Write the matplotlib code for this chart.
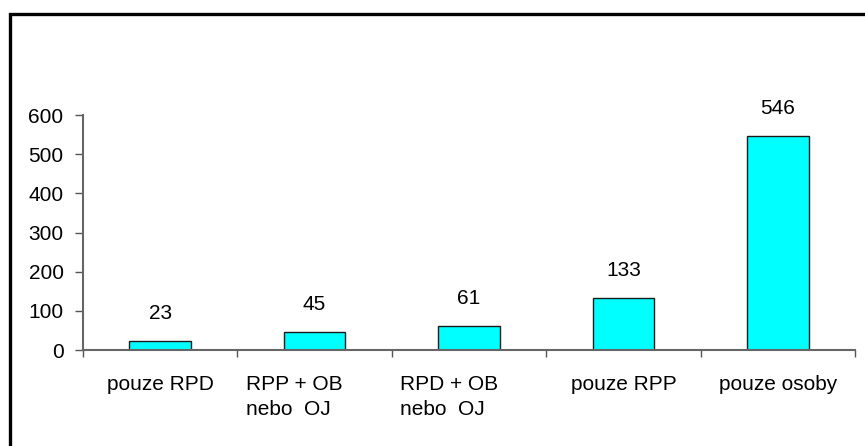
import matplotlib
matplotlib.use("Agg")
import matplotlib.pyplot as plt
import matplotlib.transforms as mtrans
import numpy as np

categories = ["pouze RPD", "RPP + OB\nnebo  OJ", "RPD + OB\nnebo  OJ", "pouze RPP", "pouze osoby"]
values = [23, 45, 61, 133, 546]
yticks = [0, 100, 200, 300, 400, 500, 600]

plt.rcParams["font.family"] = ["Liberation Sans", "DejaVu Sans"]
FS = 15

fig = plt.figure(figsize=(8.65, 4.46), dpi=100)
ax = fig.add_axes([83 / 865, 1 - 350 / 446, (855 - 83) / 865, (350 - 115) / 446])

# outer frame (only top and left edges fall inside the picture)
fig.patches.append(plt.Rectangle((9.5 / 865, -0.1), 1.2, 1 - 14 / 446 + 0.1,
                                 transform=fig.transFigure, fill=False,
                                 edgecolor="black", linewidth=2.4))

x = np.arange(len(categories))
ax.bar(x, values, width=0.4, color="#00FFFF", edgecolor="#1a1a1a", linewidth=1.0)

for xi, v in zip(x, values):
    ax.annotate(str(v), (xi, v), xytext=(0, 20), textcoords="offset points",
                ha="center", va="center", fontsize=FS)

ax.set_xlim(-0.5, len(categories) - 0.5)
ax.set_ylim(0, 600)
ax.set_yticks(yticks)
ax.set_yticklabels([str(t) for t in yticks], fontsize=FS)

# ticks between categories, labels in the middle
ax.set_xticks(np.arange(-0.5, len(categories), 1.0))
ax.set_xticklabels([])
ax.set_xticks(x, minor=True)
ax.set_xticklabels(categories, minor=True, fontsize=FS, multialignment="left",
                   linespacing=1.4)
ax.tick_params(axis="x", which="minor", length=0, pad=18)
ax.tick_params(axis="x", which="major", length=5, width=1, color="#555555", direction="out")
ax.tick_params(axis="y", length=6, width=1, color="#555555", direction="out", pad=8)

for i, lab in enumerate(ax.get_xticklabels(minor=True)):
    if "\n" in categories[i]:
        lab.set_transform(lab.get_transform() +
                          mtrans.ScaledTranslation(-20 / 100, 0, fig.dpi_scale_trans))

for s in ["top", "right"]:
    ax.spines[s].set_visible(False)
for s in ["left", "bottom"]:
    ax.spines[s].set_color("#666666")
    ax.spines[s].set_linewidth(1.5)

fig.savefig("out.png", dpi=100)
